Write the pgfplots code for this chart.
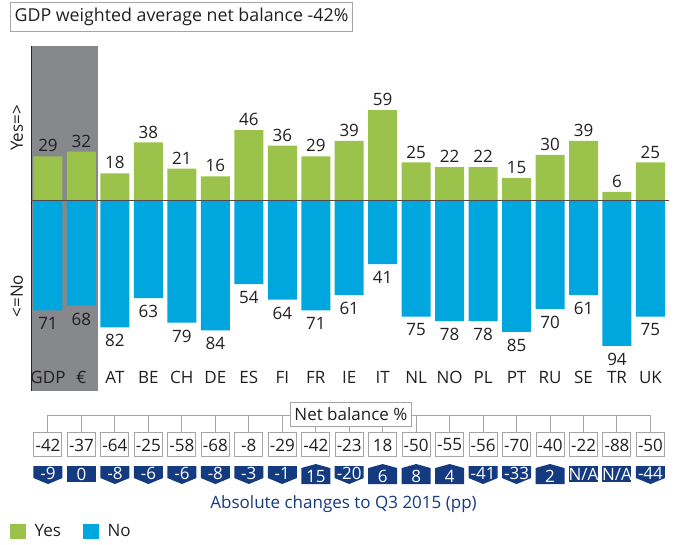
\documentclass[border=0pt]{standalone}
\usepackage{fontspec}
\setmainfont{Open Sans}
\usepackage{pgfplots}
\usepackage{pgfplotstable}
\pgfplotsset{compat=1.18}

\definecolor{yesgreen}{RGB}{155,195,75}
\definecolor{noblue}{RGB}{0,166,222}
\definecolor{gdpgray}{RGB}{134,136,140}
\definecolor{navy}{RGB}{20,58,128}
\definecolor{txt}{RGB}{35,31,32}
\definecolor{boxline}{RGB}{165,165,165}

% survey answers, share of Yes / No and net balance
\pgfplotstableread{
x yes no net
0 29 71 -42
1 32 68 -37
2 18 82 -64
3 38 63 -25
4 21 79 -58
5 16 84 -68
6 46 54 -8
7 36 64 -29
8 29 71 -42
9 39 61 -23
10 59 41 18
11 25 75 -50
12 22 78 -55
13 22 78 -56
14 15 85 -70
15 30 70 -40
16 39 61 -22
17 6 94 -88
18 25 75 -50
}\survey

% badge shapes for the change row
\pgfdeclareplotmark{chgdown}{%
  \pgfpathmoveto{\pgfqpoint{-14.5pt}{8pt}}%
  \pgfpathlineto{\pgfqpoint{14.5pt}{8pt}}%
  \pgfpathlineto{\pgfqpoint{14.5pt}{-4pt}}%
  \pgfpathlineto{\pgfqpoint{0pt}{-10pt}}%
  \pgfpathlineto{\pgfqpoint{-14.5pt}{-4pt}}%
  \pgfpathclose\pgfusepathqfill}
\pgfdeclareplotmark{chgup}{%
  \pgfpathmoveto{\pgfqpoint{-14.5pt}{-10pt}}%
  \pgfpathlineto{\pgfqpoint{14.5pt}{-10pt}}%
  \pgfpathlineto{\pgfqpoint{14.5pt}{6pt}}%
  \pgfpathlineto{\pgfqpoint{0pt}{10pt}}%
  \pgfpathlineto{\pgfqpoint{-14.5pt}{6pt}}%
  \pgfpathclose\pgfusepathqfill}
\pgfdeclareplotmark{chgflat}{%
  \pgfpathrectanglecorners{\pgfqpoint{-14.5pt}{-8pt}}{\pgfqpoint{14.5pt}{8pt}}%
  \pgfusepathqfill}

\begin{document}
\fontsize{17}{20.4}\selectfont
\begin{tikzpicture}
\begin{axis}[
    x=33.47pt, y=1.54pt,
    xmin=-0.5, xmax=18.56,
    ymin=-123.2, ymax=100.6,
    enlargelimits=false,
    clip=false,
    axis on top,
    axis line style={draw=none},
    tick style={draw=none},
    major tick length=0pt,
    ytick=\empty,
    xtick={0,...,18},
    xticklabels={GDP,€,AT,BE,CH,DE,ES,FI,FR,IE,IT,NL,NO,PL,PT,RU,SE,TR,UK},
    xticklabel style={anchor=base, yshift=7.7pt, text=txt, inner sep=0pt},
    legend style={at={(axis cs:-1.135,-214.6)}, anchor=west, draw=none,
        fill=none, inner sep=0pt, legend columns=2,
        nodes={inner sep=0pt, text=txt},
        /tikz/every even column/.append style={column sep=22pt}},
    legend cell align=left,
]

% shaded GDP / euro block and left spine
\fill[gdpgray] (axis cs:-0.5,-123.2) rectangle (axis cs:1.5,100.6);
\draw[black!85, line width=1pt] (axis cs:-0.5,-123.2) -- (axis cs:-0.5,100.6);

\addplot[ybar, bar width=29pt, bar shift=0pt, fill=yesgreen, draw=none,
    legend image code/.code={\fill[yesgreen] (0pt,-7.75pt) rectangle (15.5pt,7.75pt);},
    nodes near coords, point meta=explicit symbolic,
    nodes near coords style={anchor=south, inner sep=0pt, yshift=4pt, text=txt}]
    table[x=x, y=yes, meta=yes] {\survey};
\addlegendentry{\hspace{9pt}Yes}

\addplot[ybar, bar width=29pt, bar shift=0pt, fill=noblue, draw=none,
    legend image code/.code={\fill[noblue] (0pt,-7.75pt) rectangle (15.5pt,7.75pt);},
    nodes near coords, point meta=explicit symbolic,
    nodes near coords style={anchor=north, inner sep=0pt, yshift=-7pt, text=txt}]
    table[x=x, y expr=-\thisrow{no}, meta=no] {\survey};
\addlegendentry{\hspace{9pt}No}

% zero line
\draw[black!70, line width=1pt] (axis cs:-0.5,0) -- (axis cs:18.56,0);

% labels on the side
\node[rotate=90, text=txt] at (axis cs:-0.926,47.4) {Yes=>};
\node[rotate=90, text=txt] at (axis cs:-0.926,-61.7) {<=No};

% title box
\node[draw=boxline, fill=white, inner xsep=4pt, minimum height=23pt, text=txt,
    font=\fontsize{17.8}{21}\selectfont]
    at (axis cs:3.989,119.8) {GDP weighted average net balance -42\%};

% connector for the net balance row
\draw[boxline, line width=1pt] (axis cs:0,-139) -- (axis cs:18,-139);
\pgfplotsinvokeforeach{0,...,18}{
  \draw[boxline, line width=1pt] (axis cs:#1,-139) -- (axis cs:#1,-150.6);
}
\node[draw=boxline, line width=1pt, fill=white, inner xsep=4pt, minimum height=21pt, text=txt]
    at (axis cs:9.05,-138.6) {Net balance \%};

% net balance boxes
\addplot[draw=none, mark=none, forget plot,
    nodes near coords, point meta=explicit symbolic,
    nodes near coords style={anchor=center, draw=boxline, line width=1pt, fill=white,
        minimum width=28pt, minimum height=24pt, inner sep=0pt, text=txt}]
    table[x=x, y expr=-158.4, meta=net] {\survey};

% absolute changes to Q3 2015
\addplot[only marks, mark=chgdown, mark options={fill=navy, draw=none}, forget plot,
    nodes near coords, point meta=explicit symbolic,
    nodes near coords style={anchor=center, inner sep=0pt, yshift=1pt, text=white}]
    coordinates {(0,-177.3) [-9] (2,-177.3) [-8] (3,-177.3) [-6] (4,-177.3) [-6]
                 (5,-177.3) [-8] (6,-177.3) [-3] (7,-177.3) [-1] (9,-177.3) [-20]
                 (13,-177.3) [-41] (14,-177.3) [-33] (18,-177.3) [-44]};
\addplot[only marks, mark=chgup, mark options={fill=navy, draw=none}, forget plot,
    nodes near coords, point meta=explicit symbolic,
    nodes near coords style={anchor=center, inner sep=0pt, yshift=-2pt, text=white}]
    coordinates {(8,-177.3) [15] (10,-177.3) [6] (11,-177.3) [8] (12,-177.3) [4]
                 (15,-177.3) [2]};
\addplot[only marks, mark=chgflat, mark options={fill=navy, draw=none}, forget plot,
    nodes near coords, point meta=explicit symbolic,
    nodes near coords style={anchor=center, inner sep=0pt, text=white}]
    coordinates {(1,-177.3) [0] (16,-177.3) [N/A] (17,-177.3) [N/A]};

\node[text=navy, anchor=base] at (axis cs:8.83,-199.4) {Absolute changes to Q3 2015 (pp)};

% page frame
\path (axis cs:-1.434,130.52) rectangle (axis cs:18.793,-222.73);
\end{axis}
\end{tikzpicture}
\end{document}
